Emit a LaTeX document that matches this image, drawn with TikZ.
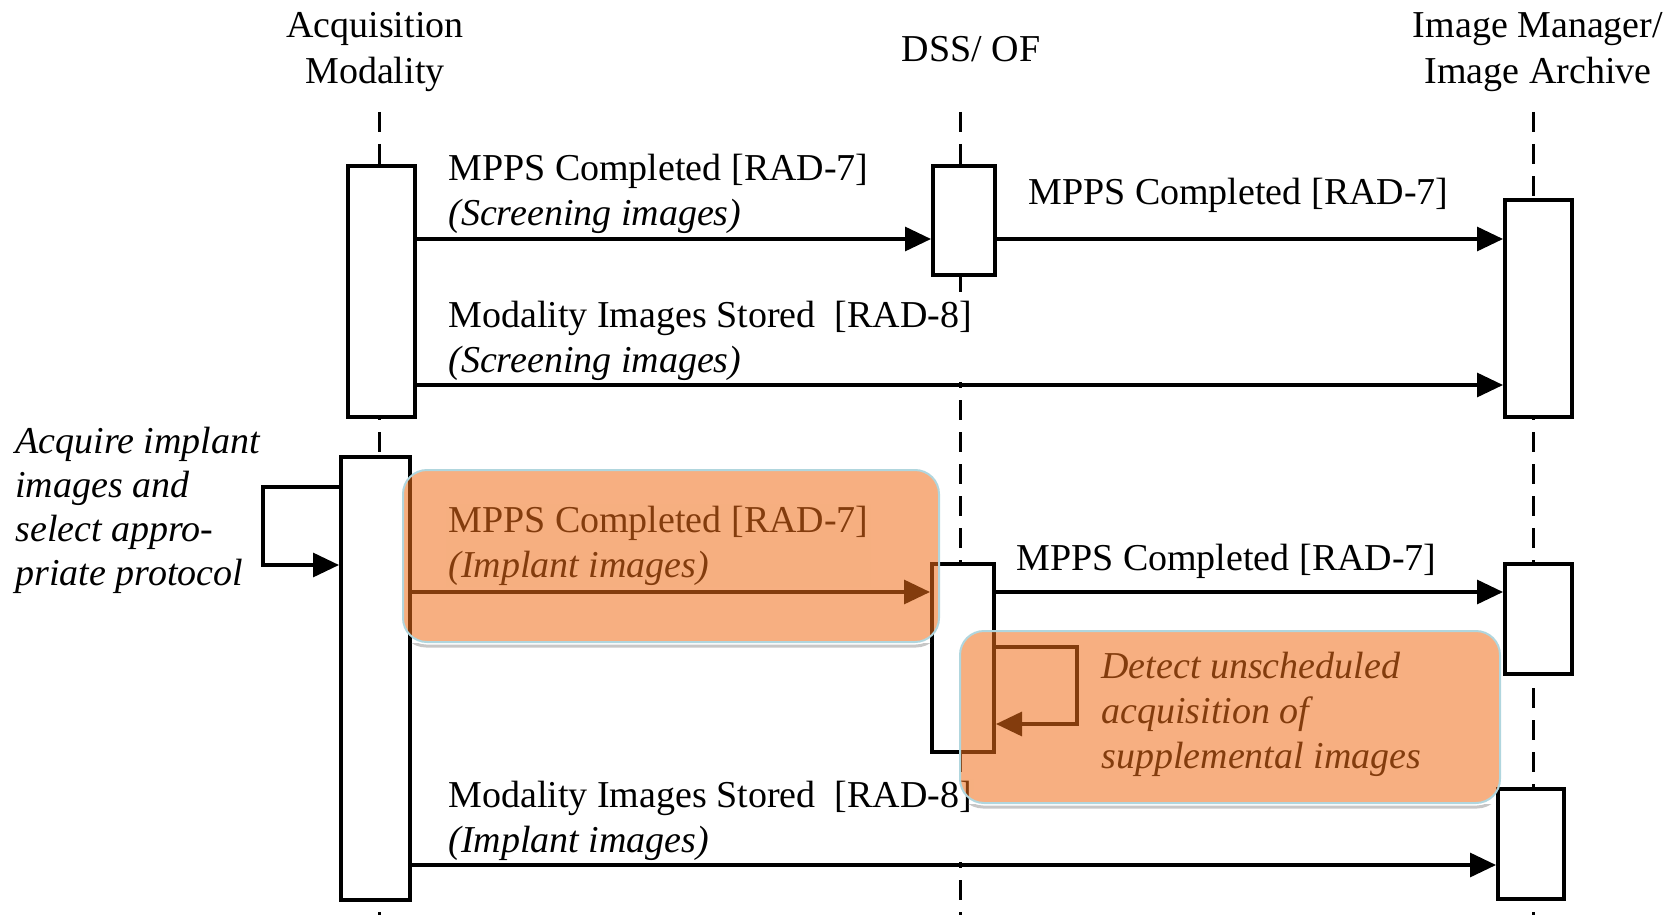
\documentclass[tikz,border=0pt]{standalone}
\usepackage{fontspec}
\setmainfont{Liberation Serif}
\usetikzlibrary{arrows.meta,fit,calc}
\definecolor{hiorange}{RGB}{240,110,25}
\definecolor{hiborder}{RGB}{176,214,222}
\tikzset{
	>={Triangle[length=13pt,width=12pt]},
	lifeline/.style={line width=1.5pt, dash pattern=on 10pt off 6pt},
	actbar/.style={draw, fill=white, line width=2pt, inner sep=0pt},
	msg/.style={->, line width=1.6pt},
	msglabel/.style={anchor=base west, align=left, fill=white, inner sep=1pt,
		font=\fontsize{19pt}{22.5pt}\selectfont},
	actor/.style={anchor=base, align=center, font=\fontsize{19pt}{23.5pt}\selectfont},
	note/.style={anchor=base west, align=left, inner sep=0pt,
		font=\fontsize{19pt}{22pt}\selectfont\itshape},
	hilite/.style={fill=hiorange, fill opacity=0.55, draw=hiborder, line width=1pt,
		rounded corners=12pt, inner sep=0pt},
	hishadow/.style={draw=black!22, line width=1.5pt, rounded corners=12pt}
}
\begin{document}
\begin{tikzpicture}[x=0.5pt, y=-0.5pt]
	\useasboundingbox (0,0) rectangle (1676,915);
	% actors (base = last line)
	\node[actor] (acq) at (375,84) {Acquisition\\Modality};
	\node[actor] (dss) at (971,62) {DSS/ OF};
	\node[actor] (img) at (1538,84) {Image Manager/\\Image Archive};
	
	% lifelines
	\foreach \n/\x in {acq/379, dss/960, img/1533}{
		\coordinate (\n top) at (\x,112);
		\coordinate (\n end) at (\x,915);
		\draw[lifeline] (\n top) -- (\n end);
	}
	
	% activation bars
	\node[actbar, fit={(348,166) (415,417)}] (acqA) {};
	\node[actbar, fit={(933,166) (995,275)}] (dssA) {};
	\node[actbar, fit={(1505,200) (1572,417)}] (imgA) {};
	\node[actbar, fit={(341,457) (410,900)}] (acqB) {};
	\node[actbar, fit={(932,564) (994,752)}] (dssB) {};
	\node[actbar, fit={(1505,564) (1572,674)}] (imgB) {};
	\node[actbar, fit={(1498,789) (1564,899)}] (imgC) {};
	
	% screening images
	\draw[msg] (acqA.east |- 0,239) -- (dssA.west |- 0,239);
	\draw[msg] (dssA.east |- 0,239) -- (imgA.west |- 0,239);
	\draw[msg] (acqA.east |- 0,385) -- (imgA.west |- 0,385);
	\node[msglabel] (m1lab) at (446,225) {MPPS Completed [RAD-7]\\\textit{(Screening images)}};
	\node[msglabel] (m2lab) at (1026,205) {MPPS Completed [RAD-7]};
	\node[msglabel] (m3lab) at (446,372) {Modality Images Stored\ \ [RAD-8]\\\textit{(Screening images)}};
	
	% implant images
	\draw[msg] (acqB.west |- 0,487) -| (263,526) |- (acqB.west |- 0,565);
	\node[note] (acqnote) at (15,585) {Acquire implant\\images and\\select appro-\\priate protocol};
	\draw[msg] (acqB.east |- 0,592) -- (dssB.west |- 0,592);
	\draw[msg] (dssB.east |- 0,592) -- (imgB.west |- 0,592);
	\draw[msg] (dssB.east |- 0,647) -| (1077,686) |- (dssB.east |- 0,724);
	\draw[msg] (acqB.east |- 0,865) -- (imgC.west |- 0,865);
	\node[msglabel] (m4lab) at (446,577) {MPPS Completed [RAD-7]\\\textit{(Implant images)}};
	\node[msglabel] (m5lab) at (1014,570) {MPPS Completed [RAD-7]};
	\node[msglabel] (m6lab) at (446,852) {Modality Images Stored\ \ [RAD-8]\\\textit{(Implant images)}};
	\node[note, font=\fontsize{19pt}{22.5pt}\selectfont\itshape] (dssnote) at (1101,768)
		{Detect unscheduled\\acquisition of\\supplemental images};
	
	% highlights
	\node[hilite, fit={(403,470) (939,642)}] (hl1) {};
	\node[hilite, fit={(960,631) (1500,803)}] (hl2) {};
	\foreach \h in {hl1, hl2}{
		\begin{scope}
			\clip ($(\h.south west)+(-10,0)$) rectangle ($(\h.south east)+(10,12)$);
			\draw[hishadow] ([yshift=-1.5pt]\h.south west) rectangle ([yshift=-1.5pt]\h.north east);
		\end{scope}
	}
\end{tikzpicture}
\end{document}
